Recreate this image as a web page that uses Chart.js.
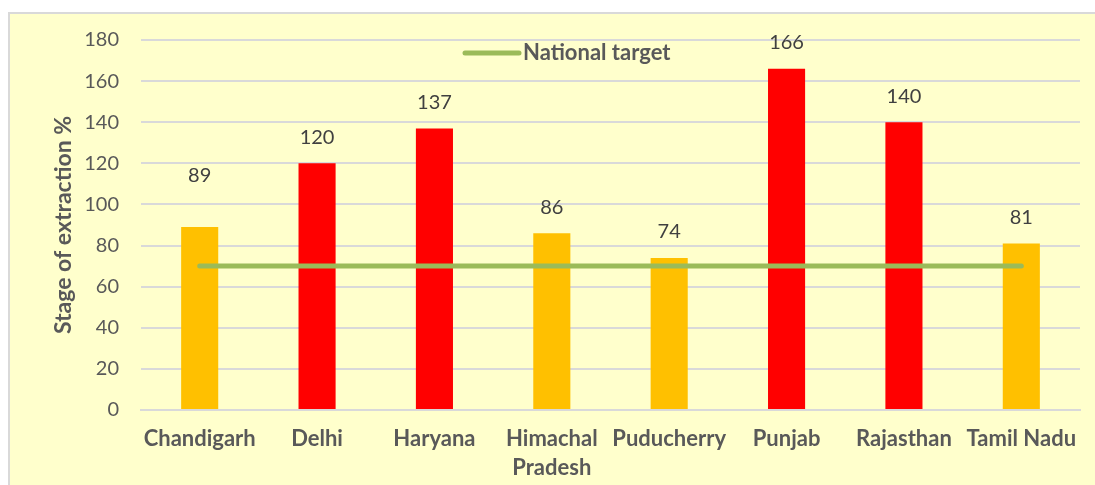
<!DOCTYPE html>
<html>
<head>
<meta charset="utf-8">
<script src="https://cdn.jsdelivr.net/npm/chart.js@4.4.1/dist/chart.umd.min.js"></script>
<style>
  html, body { margin: 0; padding: 0; background: #ffffff; }
  #box {
    position: absolute; left: 8px; top: 12px; width: 1087px; height: 473px;
    background: #FFFFCC; border-left: 2px solid #D9D9D9; border-top: 2px solid #D9D9D9;
  }
  #wrap { position: absolute; left: 0; top: 0; width: 1087px; height: 473px; }
</style>
</head>
<body>
<div id="box"><div id="wrap"><canvas id="chartExtraction"></canvas></div></div>
<script>
// Données
const etats = ['Chandigarh', 'Delhi', 'Haryana', ['Himachal', 'Pradesh'], 'Puducherry', 'Punjab', 'Rajasthan', 'Tamil Nadu'];
const stadeExtraction = [89, 120, 137, 86, 74, 166, 140, 81];
const objectifNational = [70, 70, 70, 70, 70, 70, 70, 70];
const graduationsY = [0, 20, 40, 60, 80, 100, 120, 140, 160, 180];

const police = 'Lato, "Open Sans", sans-serif';
const couleursBarres = stadeExtraction.map(v => v >= 100 ? '#FF0000' : '#FFC000');

// Étiquettes de valeurs au-dessus des barres
const etiquettesPlugin = {
    id: 'etiquettes',
    afterDatasetsDraw(chart) {
        const ctx = chart.ctx;
        const meta = chart.getDatasetMeta(0);
        ctx.save();
        ctx.font = '20px ' + police;
        ctx.fillStyle = '#404040';
        ctx.textAlign = 'center';
        ctx.textBaseline = 'middle';
        meta.data.forEach((bar, i) => {
            const decalage = i === 0 ? 52 : 26;
            ctx.fillText(String(stadeExtraction[i]), bar.x, bar.y - decalage);
        });
        ctx.restore();
    }
};

// Légende de la ligne (posée dans la zone du graphique)
const legendePlugin = {
    id: 'legendeLigne',
    afterDraw(chart) {
        const ctx = chart.ctx;
        const y = 39;
        ctx.save();
        ctx.strokeStyle = '#9BBB59';
        ctx.lineWidth = 5;
        ctx.lineCap = 'round';
        ctx.beginPath();
        ctx.moveTo(455, y);
        ctx.lineTo(509, y);
        ctx.stroke();
        ctx.font = 'bold 22px ' + police;
        ctx.fillStyle = '#595959';
        ctx.textAlign = 'left';
        ctx.textBaseline = 'middle';
        ctx.fillText('National target', 513, y);
        ctx.restore();
    }
};

const ctxExtraction = document.getElementById('chartExtraction');
new Chart(ctxExtraction, {
    data: {
        labels: etats,
        datasets: [{
            type: 'bar',
            label: 'Stage of extraction',
            data: stadeExtraction,
            backgroundColor: couleursBarres,
            categoryPercentage: 1,
            barPercentage: 0.316,
            order: 2
        }, {
            type: 'line',
            label: 'National target',
            data: objectifNational,
            borderColor: '#9BBB59',
            borderWidth: 5,
            borderCapStyle: 'round',
            pointRadius: 0,
            fill: false,
            order: 1
        }]
    },
    options: {
        responsive: true,
        maintainAspectRatio: false,
        animation: false,
        layout: { padding: { top: 26, right: 17, left: 0, bottom: 0 } },
        plugins: {
            legend: { display: false },
            tooltip: { enabled: false }
        },
        scales: {
            x: {
                grid: { display: false, drawTicks: false },
                border: { color: '#D9D9D9', width: 2 },
                ticks: {
                    color: '#595959',
                    font: { family: police, size: 22, weight: 'bold', lineHeight: 1.3 },
                    padding: 15,
                    maxRotation: 0,
                    autoSkip: false
                },
                afterFit(scale) { scale.height = 77; }
            },
            y: {
                min: 0,
                max: 180,
                afterBuildTicks(scale) { scale.ticks = graduationsY.map(v => ({ value: v })); },
                grid: { color: '#D9D9D9', lineWidth: 2, drawTicks: false },
                border: { display: false },
                ticks: {
                    color: '#595959',
                    font: { family: police, size: 20 },
                    padding: 22
                },
                title: {
                    display: true,
                    text: 'Stage of extraction %',
                    color: '#595959',
                    font: { family: police, size: 23, weight: 'bold' },
                    padding: { top: 40, bottom: 0 }
                },
                afterFit(scale) {
                    scale.width = 131;
                    scale.paddingTop = 0;
                    scale.paddingBottom = 0;
                }
            }
        }
    },
    plugins: [etiquettesPlugin, legendePlugin]
});
</script>
</body>
</html>
